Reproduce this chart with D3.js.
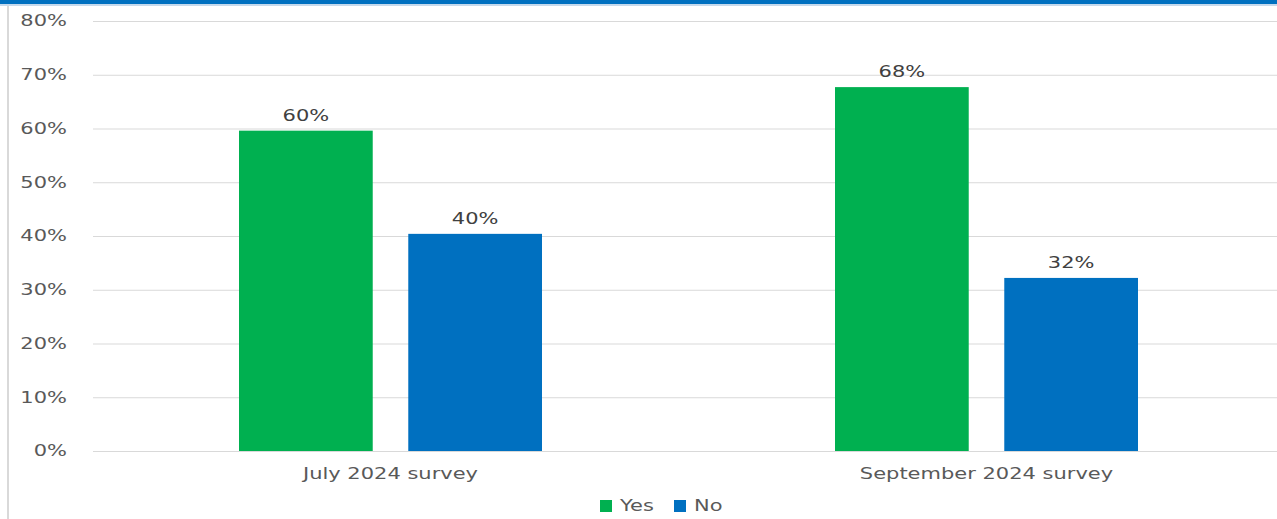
<!DOCTYPE html>
<html>
<head>
<meta charset="utf-8">
<script src="https://cdn.jsdelivr.net/npm/d3@7"></script>
<style>
  body { margin: 0; background: #fff; }
  svg { display: block; }
  text { font-family: "DejaVu Sans", Verdana, sans-serif; }
</style>
</head>
<body>
<div class="chart"></div>
<script>
// data
const categories = ["July 2024 survey", "September 2024 survey"];
const series = ["Yes", "No"];
const yesValues = [59.6, 67.7];
const noValues = [40.4, 32.2];
const valueLabels = [["60%", "40%"], ["68%", "32%"]];
const yTicks = [0, 10, 20, 30, 40, 50, 60, 70, 80];
const colors = { Yes: "#00B050", No: "#0070C0" };

const W = 1277, H = 519;
const stretch = 1.4; // the original text is drawn wide
const svg = d3.select(".chart").append("svg")
    .attr("width", W)
    .attr("height", H);

// frame: blue top strip + grey left rule
svg.append("rect").attr("x", 0).attr("y", 0).attr("width", W).attr("height", 4).attr("fill", "#0070C0");
svg.append("rect").attr("x", 0).attr("y", 4).attr("width", W).attr("height", 2).attr("fill", "#c5d9ec");
svg.append("rect").attr("x", 7).attr("y", 6).attr("width", 2).attr("height", H - 6).attr("fill", "#d9d9d9");

const margin = { top: 21, bottom: 451 };
const x0 = d3.scaleBand().domain(categories).range([92.5, 1284.5]);
const x1 = d3.scaleBand().domain(series).range([-151.5, 151.5]).paddingInner(0.21);
const y = d3.scaleLinear().domain([0, 80]).range([margin.bottom, margin.top]);

const place = (px, py) => `translate(${px},${py}) scale(${stretch},1)`;

// gridlines
svg.append("g")
    .selectAll("line")
    .data(yTicks)
    .join("line")
    .attr("x1", 93).attr("x2", W)
    .attr("y1", d => y(d) + 0.5).attr("y2", d => y(d) + 0.5)
    .attr("stroke", "#d9d9d9")
    .attr("stroke-width", 1);

// y axis labels
svg.append("g")
    .selectAll("text")
    .data(yTicks)
    .join("text")
    .attr("transform", d => place(67, y(d)))
    .attr("dy", "0.36em")
    .attr("text-anchor", "end")
    .attr("font-size", 15)
    .attr("fill", "#595959")
    .text(d => d + "%");

// bars
const rows = categories.map((c, i) => ({
    cat: c,
    vals: [
        { key: "Yes", v: yesValues[i], label: valueLabels[i][0] },
        { key: "No", v: noValues[i], label: valueLabels[i][1] }
    ]
}));

const groups = svg.append("g")
    .selectAll("g")
    .data(rows)
    .join("g")
    .attr("transform", d => `translate(${x0(d.cat) + x0.bandwidth() / 2},0)`);

groups.selectAll("rect")
    .data(d => d.vals)
    .join("rect")
    .attr("x", d => x1(d.key))
    .attr("y", d => y(d.v))
    .attr("width", x1.bandwidth())
    .attr("height", d => y(0) - y(d.v))
    .attr("fill", d => colors[d.key]);

groups.selectAll("text")
    .data(d => d.vals)
    .join("text")
    .attr("transform", d => place(x1(d.key) + x1.bandwidth() / 2, y(d.v) - 10))
    .attr("text-anchor", "middle")
    .attr("font-size", 15)
    .attr("fill", "#404040")
    .text(d => d.label);

// category labels
svg.append("g")
    .selectAll("text")
    .data(categories)
    .join("text")
    .attr("transform", d => place(x0(d) + x0.bandwidth() / 2, 479))
    .attr("text-anchor", "middle")
    .attr("font-size", 15)
    .attr("fill", "#595959")
    .text(d => d);

// legend
const legend = svg.append("g")
    .selectAll("g")
    .data(series)
    .join("g")
    .attr("transform", (d, i) => `translate(${600 + i * 74},500)`);
legend.append("rect")
    .attr("width", 12).attr("height", 12)
    .attr("fill", d => colors[d]);
legend.append("text")
    .attr("transform", place(20, 6))
    .attr("dy", "0.36em")
    .attr("font-size", 15)
    .attr("fill", "#595959")
    .text(d => d);
</script>
</body>
</html>
